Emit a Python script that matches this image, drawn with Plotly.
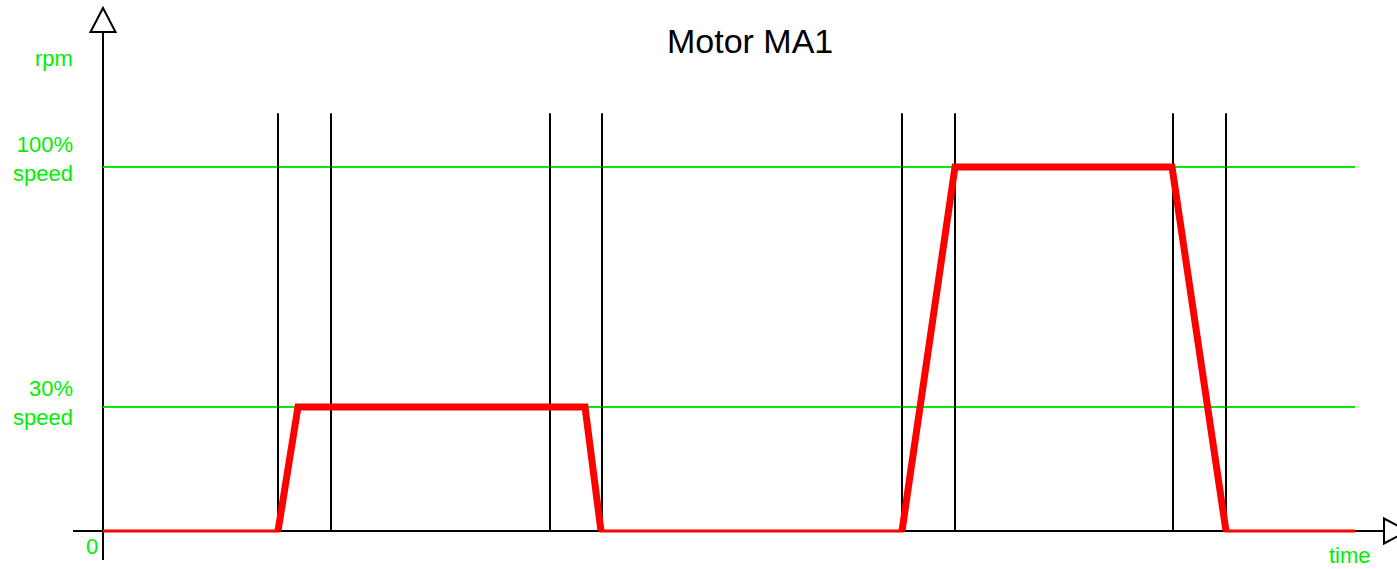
import plotly.graph_objects as go

# ---- data (arbitrary time units; speed in drawn-level units, 100 = full speed) ----
event_times = [17.5, 22.8, 44.7, 49.9, 79.9, 85.2, 107.0, 112.3]
profile_t = [0.0, 17.5, 19.5, 48.2, 49.8, 79.9, 85.2, 106.9, 112.3, 125.2]
profile_v = [0, 0, 34.1, 34.1, 0, 0, 100, 100, 0, 0]
level_values = [34.1, 100]
level_labels = ["30%<br>speed", "100%<br>speed"]
title_text = "Motor MA1"
y_label = "rpm"
x_label = "time"
origin_label = "0"
event_top = 114.8
line_end = 125.2

GREEN = "#00ee00"
RED = "#ff0000"
FONT = "Liberation Sans, Arial, sans-serif"

W, H = 1397, 569
x0_px, y0_px = 103, 531
px_per_x = 10.0
px_per_y = 3.64
x_range = [(0 - x0_px) / px_per_x, (W - x0_px) / px_per_x]
y_range = [(y0_px - H) / px_per_y, y0_px / px_per_y]

def xd(px):
    return (px - x0_px) / px_per_x

def yd(py):
    return (y0_px - py) / px_per_y

fig = go.Figure()

# green reference levels
for lv in level_values:
    fig.add_trace(go.Scatter(x=[0, line_end], y=[lv, lv], mode="lines",
                             line=dict(color=GREEN, width=2), hoverinfo="skip"))

# vertical event lines
vx, vy = [], []
for t in event_times:
    vx += [t, t, None]
    vy += [0, event_top, None]
fig.add_trace(go.Scatter(x=vx, y=vy, mode="lines",
                         line=dict(color="black", width=2), hoverinfo="skip"))

# thin baseline part of the profile
fig.add_trace(go.Scatter(x=profile_t, y=profile_v, mode="lines",
                         line=dict(color=RED, width=3), hoverinfo="skip"))

# thick moving parts
fig.add_trace(go.Scatter(x=profile_t[1:5], y=profile_v[1:5], mode="lines",
                         line=dict(color=RED, width=7), hoverinfo="skip"))
fig.add_trace(go.Scatter(x=profile_t[5:9], y=profile_v[5:9], mode="lines",
                         line=dict(color=RED, width=7), hoverinfo="skip"))

# axes lines as shapes
shapes = [
    dict(type="line", x0=0, x1=0, y0=yd(560), y1=yd(32),
         line=dict(color="black", width=2), layer="below"),
    dict(type="line", x0=xd(73), x1=xd(1384), y0=0, y1=0,
         line=dict(color="black", width=2), layer="below"),
    dict(type="path",
         path=f"M {xd(90.5)} {yd(32)} L {xd(115.5)} {yd(32)} L {xd(103)} {yd(8)} Z",
         line=dict(color="black", width=2), fillcolor="white", layer="above"),
    dict(type="path",
         path=f"M {xd(1384)} {yd(518.5)} L {xd(1384)} {yd(543.5)} L {xd(1408)} {yd(531)} Z",
         line=dict(color="black", width=2), fillcolor="white", layer="above"),
]

def ann(text, x, y, xanchor="center", size=22, color=GREEN):
    return dict(text=text, x=x / W, y=1 - y / H, xref="paper", yref="paper",
                xanchor=xanchor, yanchor="middle", showarrow=False,
                font=dict(family=FONT, size=size, color=color), align="right")

annotations = [
    ann(title_text, 750, 41, size=34, color="black"),
    ann(y_label, 75, 58, xanchor="right"),
    ann(level_labels[1], 75, 159, xanchor="right"),
    ann(level_labels[0], 75, 403, xanchor="right"),
    ann(origin_label, 92, 546),
    ann(x_label, 1350, 555),
]

fig.update_layout(
    width=W, height=H,
    margin=dict(l=0, r=0, t=0, b=0),
    paper_bgcolor="white", plot_bgcolor="white",
    showlegend=False,
    xaxis=dict(range=x_range, visible=False, fixedrange=True),
    yaxis=dict(range=y_range, visible=False, fixedrange=True),
    shapes=shapes,
    annotations=annotations,
)

fig.write_html("out.html", config={"displayModeBar": False},
               post_script="document.body.style.margin='0';document.body.style.overflow='hidden';")
